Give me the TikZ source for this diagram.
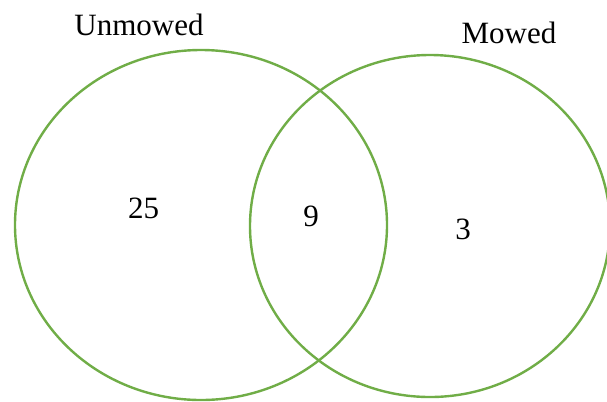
\documentclass[tikz,border=0pt]{standalone}
\usepackage{fontspec}
\setmainfont{Liberation Serif}
\usetikzlibrary{shapes.geometric}
\definecolor{vgreen}{HTML}{70AD47}
\begin{document}
\begin{tikzpicture}[x=1bp,y=-1bp,
  setline/.style={draw=vgreen,line width=2.4bp},
  lbl/.style={font=\fontsize{31bp}{37bp}\selectfont,anchor=base,inner sep=0pt}]
\useasboundingbox (0,0) rectangle (607,401);
\clip (0,0) rectangle (607,401);
\node[setline,ellipse,minimum width=372bp,minimum height=350bp,inner sep=0pt] (unm) at (201,225) {};
\node[setline,ellipse,minimum width=360bp,minimum height=342bp,inner sep=0pt] (mow) at (430,226) {};
\node[lbl] (tu) at (139,35) {Unmowed};
\node[lbl] (tm) at (509,43) {Mowed};
\node[lbl] (n25) at (143.5,218) {25};
\node[lbl] (n9) at (311,226) {9};
\node[lbl] (n3) at (463,239) {3};
\end{tikzpicture}
\end{document}
